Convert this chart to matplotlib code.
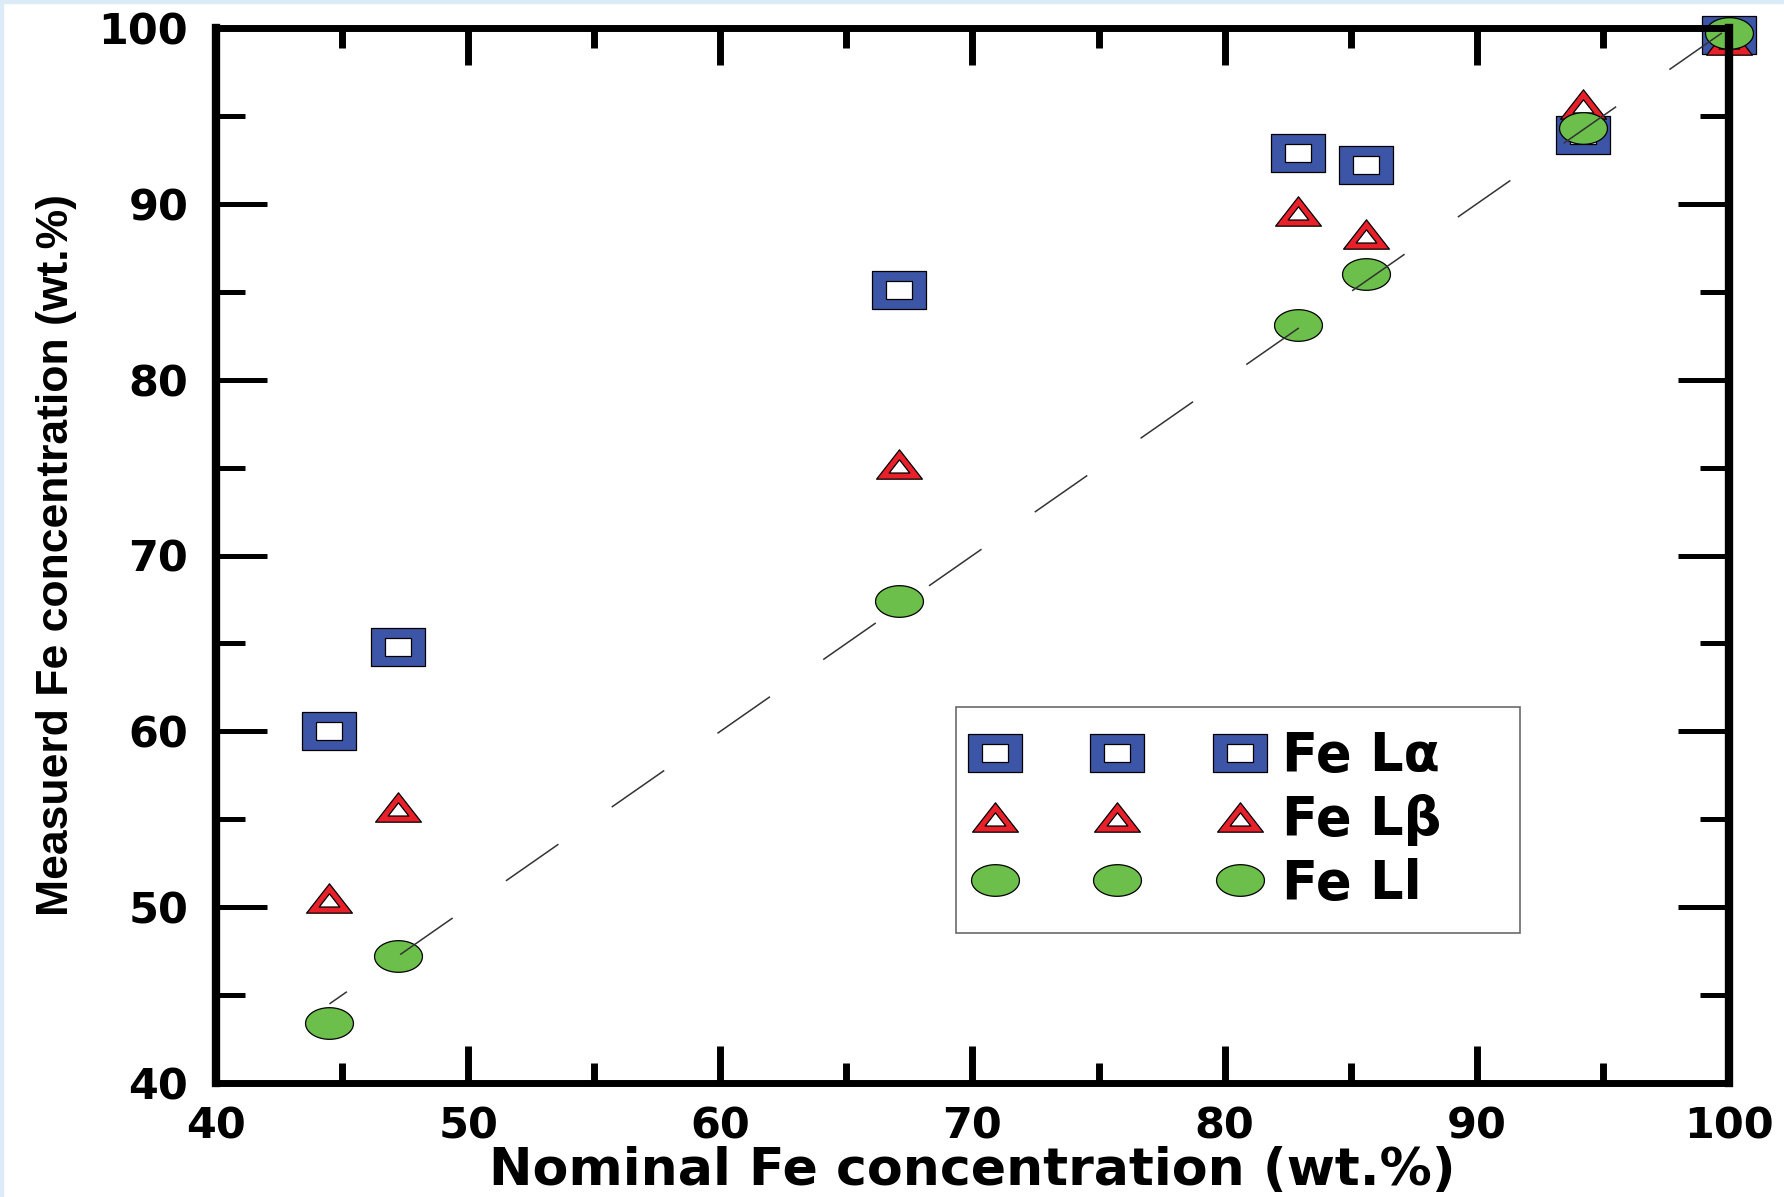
import numpy as np
import matplotlib.pyplot as plt
from matplotlib.path import Path
from matplotlib.patches import Rectangle
from matplotlib.lines import Line2D
from matplotlib.legend_handler import HandlerLine2D
from matplotlib.ticker import MultipleLocator

# values
nominal = [44.5, 47.2, 67.1, 82.9, 85.6, 94.2, 100.0]
fe_la = [60.0, 64.8, 85.1, 92.9, 92.2, 93.9, 99.6]
fe_lb = [50.5, 55.7, 75.2, 89.6, 88.3, 95.7, 99.3]
fe_ll = [43.4, 47.2, 67.4, 83.1, 86.0, 94.3, 99.7]
labels = ["Fe L\u03b1", "Fe L\u03b2", "Fe Ll"]
parity = [44.5, 100.0]

blue = "#3c55a6"
red = "#e8202a"
green = "#6cbf4a"

M, L, C = Path.MOVETO, Path.LINETO, Path.CLOSEPOLY


def rect_ring(h, f):
    outer = [(-1, -h), (1, -h), (1, h), (-1, h), (-1, -h)]
    inner = [(-f, -h * f), (-f, h * f), (f, h * f), (f, -h * f), (-f, -h * f)]
    return Path(outer + inner, [M, L, L, L, C] * 2)


def tri_ring(h, f):
    outer = [(-1, -h), (1, -h), (0, h), (-1, -h)]
    # inner triangle scaled about the incenter
    side = np.hypot(1, 2 * h)
    r = (2 * h) / (1 + side)
    yc = -h + r
    inner = [(x * f, yc + (y - yc) * f) for x, y in outer[:3]]
    inner = inner[::-1] + [inner[-1]]
    return Path(outer + inner, [M, L, L, C] * 2)


def ellipse(h):
    t = np.linspace(0, 2 * np.pi, 73)
    return Path(np.column_stack([np.cos(t), h * np.sin(t)]), closed=True)


fig = plt.figure(figsize=(17.84, 11.97), dpi=100)
ax = fig.add_axes([216 / 1784, 1 - 1083 / 1197, 1513 / 1784, 1055 / 1197])

common = dict(ls="none", mec="black", mew=0.9, clip_on=False)
h1, = ax.plot(nominal, fe_la, marker=rect_ring(0.71, 0.5), ms=38.2, mfc=blue,
              zorder=2.0, **common)
h2, = ax.plot(nominal, fe_lb, marker=tri_ring(0.64, 0.45), ms=33, mfc=red,
              zorder=2.05, **common)
h3, = ax.plot(nominal, fe_ll, marker=ellipse(0.66), ms=34.5, mfc=green,
              zorder=2.1, **common)

lw = 1.1
ax.plot(parity, parity, color="#333333", lw=lw, zorder=2.2,
        linestyle=(28.0, (41.9, 42.5)))

ax.set_xlim(40, 100)
ax.set_ylim(40, 100)
ax.xaxis.set_major_locator(MultipleLocator(10))
ax.xaxis.set_minor_locator(MultipleLocator(5))
ax.yaxis.set_major_locator(MultipleLocator(10))
ax.yaxis.set_minor_locator(MultipleLocator(5))

for side in ["left", "right"]:
    ax.spines[side].set_linewidth(6.0)
for side in ["top", "bottom"]:
    ax.spines[side].set_linewidth(5.0)

ax.tick_params(axis="both", which="both", direction="in", top=True, right=True,
               labelsize=31, colors="black")
ax.tick_params(axis="x", which="major", length=26.5, width=5.0, pad=16)
ax.tick_params(axis="x", which="minor", length=14.5, width=5.0)
ax.tick_params(axis="y", which="major", length=37, width=3.6, pad=20)
ax.tick_params(axis="y", which="minor", length=21, width=3.6)
for t in ax.get_xticklabels() + ax.get_yticklabels():
    t.set_fontfamily("DejaVu Sans")
    t.set_fontweight("bold")

ax.set_xlabel("Nominal Fe concentration (wt.%)", fontsize=37.5,
              fontweight="bold", family="DejaVu Sans")
ax.xaxis.set_label_coords(0.5, -0.06)
ax.set_ylabel("Measuerd Fe concentration (wt.%)", fontsize=32,
              fontweight="bold", family="Liberation Sans")
ax.yaxis.set_label_coords(-0.092, 0.5)

# legend box, data coordinates of its corners
leg = ax.legend([h1, h2, h3], labels, numpoints=3, loc="upper left",
                bbox_to_anchor=(69.35, 48.57, 22.35, 12.8),
                bbox_transform=ax.transData, mode="expand", borderaxespad=0,
                prop=dict(family="DejaVu Sans", weight="bold", size=38),
                handler_map={Line2D: HandlerLine2D(marker_pad=0.3)},
                handlelength=5.23, handletextpad=0.5, borderpad=0.44,
                labelspacing=0.22, fancybox=False, frameon=True)
leg.get_frame().set_edgecolor("#444444")
leg.get_frame().set_linewidth(1.2)

# thin light-blue border at top and left of the image
fig.add_artist(Rectangle((0, 1 - 3 / 1197), 1, 3 / 1197, transform=fig.transFigure,
                         color="#dcebf5", zorder=-1))
fig.add_artist(Rectangle((0, 0), 3 / 1784, 1, transform=fig.transFigure,
                         color="#dcebf5", zorder=-1))

fig.savefig("out.png", dpi=100)
